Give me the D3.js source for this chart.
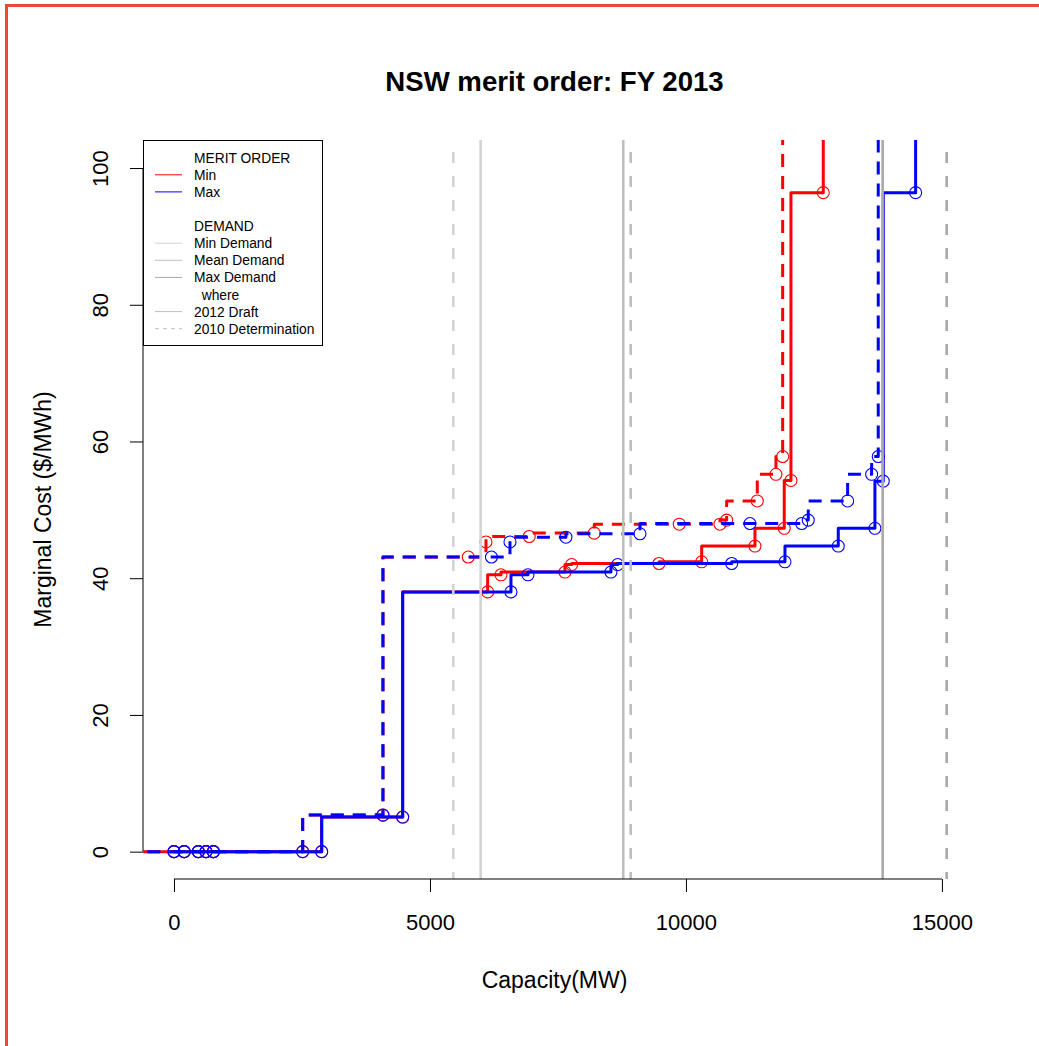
<!DOCTYPE html>
<html>
<head>
<meta charset="utf-8">
<script src="https://cdn.jsdelivr.net/npm/d3@7"></script>
<style>
    body { margin: 0; background: #fff; }
    svg text { font-family: "Liberation Sans", Arial, sans-serif; fill: #000; }
</style>
</head>
<body>
<div id="merit"></div>
<script>
// --------------------------------------------------
// NSW merit order, FY 2013 (step curves of capacity vs marginal cost)

// 2012 Draft, Min merit order
var minCap  = [-600, 0, 200, 475, 625, 770, 2885, 4467, 6127, 6387, 7637, 7767, 9473, 10307, 11348, 11920, 12051, 12682, 12800];
var minCost = [0, 0, 0, 0, 0, 0, 0, 5.06, 38.0, 40.5, 40.9, 42.0, 42.15, 42.4, 44.7, 47.3, 54.3, 96.4, 300];
var minMark = [0, 1, 1, 1, 1, 1, 1, 1, 1, 1, 1, 1, 1, 1, 1, 1, 1, 1, 1];

// 2012 Draft, Max merit order
var maxCap  = [0, 200, 475, 625, 770, 2885, 4467, 6582, 6914, 8535, 8666, 10893, 11934, 12975, 13691, 13854, 14486, 14600];
var maxCost = [0, 0, 0, 0, 0, 0, 5.06, 38.0, 40.5, 40.9, 42.0, 42.15, 42.4, 44.7, 47.3, 54.2, 96.4, 300];
var maxMark = [1, 1, 1, 1, 1, 1, 1, 1, 1, 1, 1, 1, 1, 1, 1, 1, 1, 1];

// 2010 Determination, Min merit order
var minDetCap  = [-520, 0, 200, 475, 625, 770, 2514, 4082, 5748, 6094, 6094, 6939, 8209, 9869, 10664, 10795, 11393, 11758, 11889, 11950];
var minDetCost = [0, 0, 0, 0, 0, 0, 0, 5.35, 43.1, 43.1, 45.3, 46.1, 46.6, 47.9, 47.9, 48.5, 51.3, 55.2, 57.8, 300];
var minDetMark = [0, 1, 1, 1, 1, 1, 1, 1, 1, 0, 1, 1, 1, 1, 1, 1, 1, 1, 1, 1];

// 2010 Determination, Max merit order
var maxDetCap  = [-520, 0, 200, 475, 625, 770, 2514, 4082, 6201, 6563, 6563, 7656, 9102, 11250, 12260, 12389, 13158, 13627, 13756, 13800];
var maxDetCost = [0, 0, 0, 0, 0, 0, 0, 5.35, 43.1, 43.1, 45.3, 46.0, 46.5, 48.0, 48.0, 48.5, 51.3, 55.2, 57.8, 300];
var maxDetMark = [0, 1, 1, 1, 1, 1, 1, 1, 1, 0, 1, 1, 1, 1, 1, 1, 1, 1, 1, 1];

// demand (MW): min, mean, max
var demandDraft = [5990, 8775, 13842];
var demandDet   = [5455, 8920, 15092];

// ticks
var xTicks = [0, 5000, 10000, 15000];
var yTicks = [0, 20, 40, 60, 80, 100];

var legendLabels = ["MERIT ORDER", "Min", "Max", "", "DEMAND", "Min Demand", "Mean Demand",
    "Max Demand", "  where", "2012 Draft", "2010 Determination"];

// styles
var demandColors = ["#d3d3d3", "#bebebe", "#a9a9a9"];
var legendColors = [null, "#ff0000", "#0000ff", null, null, "#d3d3d3", "#bebebe", "#a9a9a9", null, "#bebebe", "#bebebe"];
var legendDash   = [null, null, null, null, null, null, null, null, null, null, "4,4"];

function makeSeries(cap, cost, mark) {
    return cap.map(function(c, i) {
        return { cap: c, cost: cost[i], mark: mark[i] };
    });
}

var series = [
    { data: makeSeries(minCap, minCost, minMark), color: "#ff0000", dash: null },
    { data: makeSeries(minDetCap, minDetCost, minDetMark), color: "#ff0000", dash: "13,9" },
    { data: makeSeries(maxCap, maxCost, maxMark), color: "#0000ff", dash: null },
    { data: makeSeries(maxDetCap, maxDetCost, maxDetMark), color: "#0000ff", dash: "13,9" }
];

var plot = { left: 143, right: 966, top: 140, bottom: 879 };

// svg canvas
var svg = d3.select("#merit")
    .append("svg")
    .attr("width", 1039)
    .attr("height", 1046);

// frame round the screenshot
svg.append("path")
    .attr("d", "M6.5,1046V5.5H1039")
    .attr("fill", "none")
    .attr("stroke", "#e8473b")
    .attr("stroke-width", 3);

var x = d3.scaleLinear()
    .domain([-605, 15470])
    .range([plot.left, plot.right]);

var y = d3.scaleLinear()
    .domain([-4, 104.1])
    .range([plot.bottom, plot.top]);

svg.append("clipPath")
    .attr("id", "clip")
    .append("rect")
    .attr("x", plot.left)
    .attr("y", plot.top)
    .attr("width", plot.right - plot.left)
    .attr("height", plot.bottom - plot.top);

var g = svg.append("g").attr("clip-path", "url(#clip)");

// step lines, vertical first then horizontal (R type = "S")
var line = d3.line()
    .x(function(d) { return x(d.cap); })
    .y(function(d) { return y(d.cost); })
    .curve(d3.curveStepBefore);

series.forEach(function(s) {
    g.append("path")
        .datum(s.data)
        .attr("d", line)
        .attr("fill", "none")
        .attr("stroke", s.color)
        .attr("stroke-width", 3)
        .attr("stroke-linejoin", "round")
        .attr("stroke-dasharray", s.dash);

    g.selectAll(null)
        .data(s.data.filter(function(d) { return d.mark; }))
        .enter()
        .append("circle")
        .attr("cx", function(d) { return x(d.cap); })
        .attr("cy", function(d) { return y(d.cost); })
        .attr("r", 6)
        .attr("fill", "none")
        .attr("stroke", s.color)
        .attr("stroke-width", 1.1);
});

// demand lines
g.selectAll(".draft")
    .data(demandDraft)
    .enter()
    .append("line")
    .attr("class", "draft")
    .attr("x1", function(d) { return x(d); })
    .attr("x2", function(d) { return x(d); })
    .attr("y1", plot.top)
    .attr("y2", plot.bottom)
    .attr("stroke", function(d, i) { return demandColors[i]; })
    .attr("stroke-width", 2.6);

g.selectAll(".det")
    .data(demandDet)
    .enter()
    .append("line")
    .attr("class", "det")
    .attr("x1", function(d) { return x(d); })
    .attr("x2", function(d) { return x(d); })
    .attr("y1", plot.top + 12)
    .attr("y2", plot.bottom)
    .attr("stroke", function(d, i) { return demandColors[i]; })
    .attr("stroke-width", 2.6)
    .attr("stroke-dasharray", "11,13");

// x axis
var xAxis = svg.append("g")
    .attr("transform", "translate(0," + plot.bottom + ")")
    .call(d3.axisBottom(x).tickValues(xTicks).tickFormat(d3.format("d")).tickSize(13).tickSizeOuter(0));
xAxis.select(".domain").remove();
xAxis.append("line")
    .attr("x1", x(xTicks[0]))
    .attr("x2", x(xTicks[xTicks.length - 1]))
    .attr("stroke", "#000");
xAxis.selectAll("text")
    .attr("y", 51)
    .attr("dy", 0)
    .attr("font-size", "22px")
    .attr("font-family", null);

// y axis
var yAxis = svg.append("g")
    .attr("transform", "translate(" + plot.left + ",0)")
    .call(d3.axisLeft(y).tickValues(yTicks).tickFormat(d3.format("d")).tickSize(13).tickSizeOuter(0));
yAxis.select(".domain").remove();
yAxis.append("line")
    .attr("y1", y(yTicks[0]))
    .attr("y2", y(yTicks[yTicks.length - 1]))
    .attr("stroke", "#000");
yAxis.selectAll("text")
    .attr("x", 0)
    .attr("dy", 0)
    .attr("text-anchor", "middle")
    .attr("transform", "translate(-35,0) rotate(-90)")
    .attr("font-size", "22px")
    .attr("font-family", null);
svg.selectAll(".tick line").attr("stroke", "#000");

// labels
svg.append("text")
    .attr("x", (plot.left + plot.right) / 2)
    .attr("y", 91)
    .attr("text-anchor", "middle")
    .attr("font-size", "27.6px")
    .attr("font-weight", "bold")
    .text("NSW merit order: FY 2013");

svg.append("text")
    .attr("x", (plot.left + plot.right) / 2)
    .attr("y", 988)
    .attr("text-anchor", "middle")
    .attr("font-size", "23px")
    .text("Capacity(MW)");

svg.append("text")
    .attr("transform", "translate(51," + (plot.top + plot.bottom) / 2 + ") rotate(-90)")
    .attr("text-anchor", "middle")
    .attr("font-size", "23px")
    .text("Marginal Cost ($/MWh)");

// legend
var legend = svg.append("g");
legend.append("rect")
    .attr("x", 143.5)
    .attr("y", 140.5)
    .attr("width", 179)
    .attr("height", 205)
    .attr("fill", "#fff")
    .attr("stroke", "#000");

var rows = legend.selectAll(".row")
    .data(legendLabels)
    .enter()
    .append("g")
    .attr("class", "row")
    .attr("transform", function(d, i) { return "translate(0," + (157.7 + i * 17.1) + ")"; });

rows.filter(function(d, i) { return legendColors[i]; })
    .append("line")
    .attr("x1", 155)
    .attr("x2", 182)
    .attr("stroke", function(d) { return legendColors[legendLabels.indexOf(d)]; })
    .attr("stroke-dasharray", function(d) { return legendDash[legendLabels.indexOf(d)]; });

rows.append("text")
    .attr("x", 194)
    .attr("y", 5)
    .attr("font-size", "13.8px")
    .style("white-space", "pre")
    .text(function(d) { return d; });
</script>
</body>
</html>
